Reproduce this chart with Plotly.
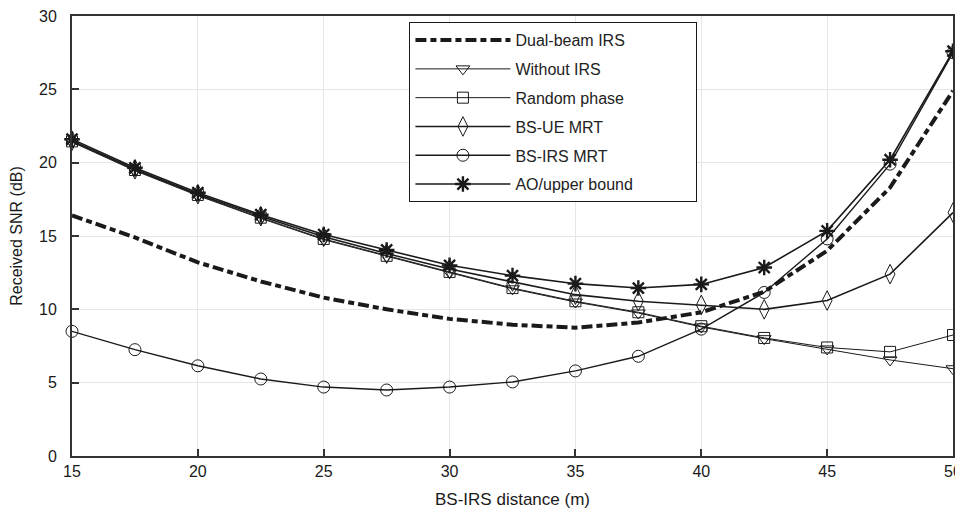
import plotly.graph_objects as go

distance = [15, 17.5, 20, 22.5, 25, 27.5, 30, 32.5, 35, 37.5, 40, 42.5, 45, 47.5, 50]

dual_beam = [16.4, 14.9, 13.2, 11.9, 10.8, 10.0, 9.35, 8.95, 8.75, 9.1, 9.8, 11.2, 14.0, 18.3, 24.9]
without_irs = [21.4, 19.45, 17.75, 16.2, 14.75, 13.6, 12.5, 11.4, 10.5, 9.75, 8.8, 8.0, 7.3, 6.55, 5.95]
random_phase = [21.45, 19.5, 17.8, 16.25, 14.8, 13.65, 12.55, 11.45, 10.55, 9.8, 8.85, 8.05, 7.4, 7.1, 8.25]
bs_ue_mrt = [21.5, 19.55, 17.85, 16.35, 14.95, 13.8, 12.75, 11.9, 11.0, 10.55, 10.3, 10.0, 10.6, 12.4, 16.6]
bs_irs_mrt = [8.5, 7.25, 6.15, 5.25, 4.7, 4.5, 4.7, 5.05, 5.8, 6.8, 8.65, 11.15, 14.8, 19.9, 27.5]
ao_upper = [21.6, 19.65, 17.95, 16.45, 15.1, 14.05, 13.0, 12.3, 11.75, 11.45, 11.7, 12.85, 15.35, 20.2, 27.6]

x_ticks = [15, 20, 25, 30, 35, 40, 45, 50]
y_ticks = [0, 5, 10, 15, 20, 25, 30]

FONT = "Liberation Sans, Arial, sans-serif"
INK = "#1a1a1a"
PAD = "\u00a0" * 13

fig = go.Figure()

fig.add_trace(go.Scatter(
    x=distance, y=dual_beam, mode="lines", name="Dual-beam IRS",
    legendgroup="g0", cliponaxis=False,
    line=dict(color=INK, width=4, dash="11px,4px,6px,4px"),
))

series = [
    ("Without IRS", without_irs, "triangle-down-open", 1.0, 12),
    ("Random phase", random_phase, "square-open", 1.0, 11),
    ("BS-UE MRT", bs_ue_mrt, "diamond-tall-open", 1.6, 14),
    ("BS-IRS MRT", bs_irs_mrt, "circle-open", 1.4, 12),
    ("AO/upper bound" + PAD, ao_upper, "asterisk-open", 1.6, 13),
]
for i, (name, vals, sym, w, ms) in enumerate(series):
    fig.add_trace(go.Scatter(
        x=distance, y=vals, mode="lines+markers", name=name,
        legendgroup="g%d" % (i + 1), cliponaxis=False,
        line=dict(color=INK, width=w),
        marker=dict(symbol=sym, size=ms, color=INK,
                    line=dict(color=INK, width=2.4 if sym == "asterisk-open" else 1)),
    ))

fig.update_layout(
    width=955, height=514,
    margin=dict(l=64, r=10, t=8, b=66),
    paper_bgcolor="white", plot_bgcolor="white",
    font=dict(family=FONT, size=16, color=INK),
    showlegend=True,
    legend=dict(
        x=0.383, y=0.986, xanchor="left", yanchor="top",
        bgcolor="white", bordercolor=INK, borderwidth=1,
        font=dict(family=FONT, size=16, color="#222"),
        itemwidth=95, tracegroupgap=5,
    ),
    xaxis=dict(
        range=[15, 50], tickvals=x_ticks, ticktext=[str(v) for v in x_ticks],
        showgrid=True, gridcolor="#e6e6e6", gridwidth=1,
        showline=True, linecolor="#333", linewidth=2, mirror=True,
        ticks="inside", ticklen=7, tickcolor="#333", tickwidth=2,
        zeroline=False, ticklabeloverflow="allow", automargin=False,
        title=dict(text="BS-IRS distance (m)", font=dict(size=17), standoff=14),
    ),
    yaxis=dict(
        range=[0, 30], tickvals=y_ticks, ticktext=[str(v) for v in y_ticks],
        showgrid=True, gridcolor="#e6e6e6", gridwidth=1,
        showline=True, linecolor="#333", linewidth=2, mirror=True,
        ticks="inside", ticklen=7, tickcolor="#333", tickwidth=2,
        zeroline=False, ticklabeloverflow="allow", automargin=False,
        ticklabelstandoff=10,
        title=dict(text="Received SNR (dB)", font=dict(size=16), standoff=12),
    ),
)

fig.write_html("out.html")
